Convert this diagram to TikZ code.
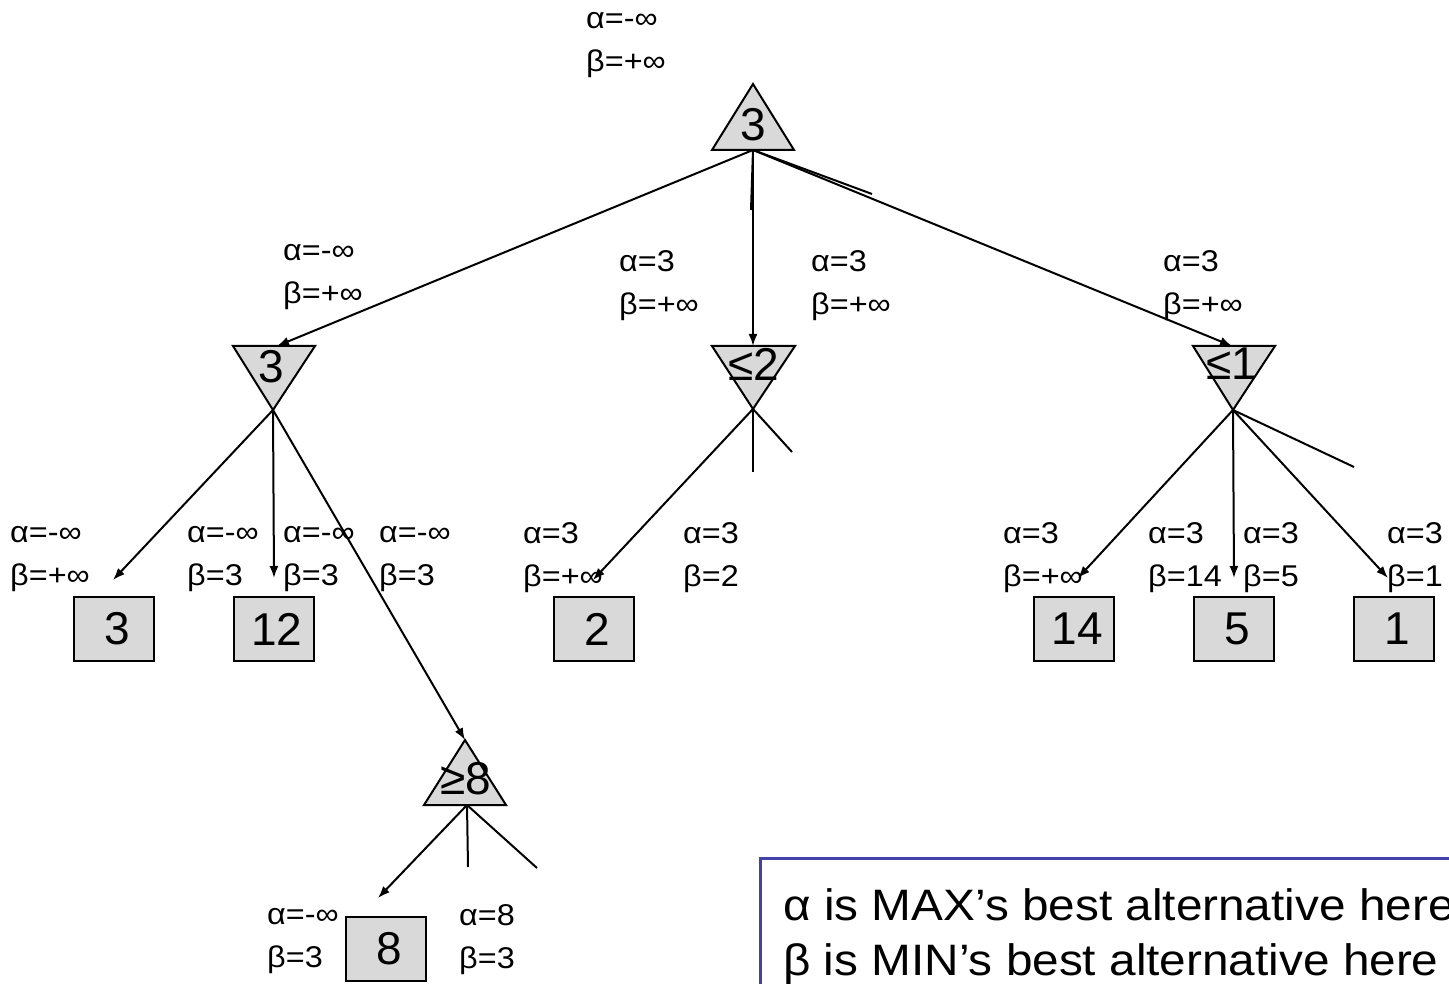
\documentclass[tikz,border=0pt]{standalone}
\usepackage{fontspec}
\setmainfont{Liberation Sans}
\usetikzlibrary{arrows.meta}
\definecolor{nodegray}{RGB}{217,217,217}
\definecolor{boxblue}{RGB}{66,66,170}
\newcommand\ablab[2]{\rule{0pt}{20pt}\scalebox{1.08}[1]{#1}\\\scalebox{1.08}[1]{#2}\rule[-6pt]{0pt}{6pt}}
\begin{document}
\begin{tikzpicture}[x=1pt,y=-1pt,
  edge/.style={line width=2pt},
  arr/.style={edge,-{Latex[length=12pt,width=9pt]}},
  tri/.style={draw,line width=2pt,fill=nodegray,line join=miter},
  num/.style={font=\fontsize{46}{46}\selectfont,inner sep=0pt},
  leaf/.style={draw,line width=1.6pt,fill=nodegray,minimum width=80pt,minimum height=64pt,inner sep=0pt,font=\fontsize{46}{46}\selectfont,execute at begin node=\hspace*{6pt}},
  lab/.style={font=\fontsize{30}{43}\selectfont,align=left,anchor=west,inner sep=0pt},
]
\useasboundingbox (0,0) rectangle (1449,984);

% ---- nodes (triangles) ----
\draw[tri] (753,84) -- (794,150) -- (712,150) -- cycle;
\node[num] (root) at (753,125) {3};
\coordinate (rootB) at (753,150);

\draw[tri] (233,346) -- (315,346) -- (273,410) -- cycle;
\node[num] (minA) at (271,367) {3};
\coordinate (minAT) at (277,346);
\coordinate (minAB) at (273,410);

\draw[tri] (712,346) -- (795,346) -- (753,409) -- cycle;
\node[num] (minB) at (754,364) {≤2};
\coordinate (minBT) at (753,346);
\coordinate (minBB) at (753,409);

\draw[tri] (1193,346) -- (1275,346) -- (1233,410) -- cycle;
\node[num] (minC) at (1232,364) {≤1};
\coordinate (minCT) at (1232,346);
\coordinate (minCB) at (1233,410);

\draw[tri] (465,740) -- (506,805) -- (424,805) -- cycle;
\node[num] (maxD) at (466,779) {≥8};
\coordinate (maxDT) at (465,740);
\coordinate (maxDB) at (467,805);

% ---- leaves ----
\node[leaf] (l3)  at (114,629) {3};
\node[leaf] (l12) at (274,629) {12};
\node[leaf] (l2)  at (594,629) {2};
\node[leaf] (l14) at (1074,629) {14};
\node[leaf] (l5)  at (1234,629) {5};
\node[leaf] (l1)  at (1394,629) {1};
\node[leaf] (l8)  at (386,949) {8};

% ---- connector ends ----
\coordinate (t3) at (113,580);
\coordinate (t12) at (274,578);
\coordinate (t2) at (593,580);
\coordinate (t14) at (1078,578);
\coordinate (t5) at (1234,578);
\coordinate (t1) at (1388,578);
\coordinate (t8) at (378,898);
\coordinate (cutR1) at (751,210);
\coordinate (cutR2) at (872,194);
\coordinate (cutB1) at (753,472);
\coordinate (cutB2) at (792,452);
\coordinate (cutC) at (1354,467);
\coordinate (cutD1) at (468,867);
\coordinate (cutD2) at (537,868);

% ---- connectors ----
\draw[arr] (rootB) -- (minAT);
\draw[arr] (rootB) -- (minBT);
\draw[arr] (rootB) -- (minCT);
\draw[edge] (rootB) -- (cutR1);
\draw[edge] (rootB) -- (cutR2);

\draw[arr] (minAB) -- (t3);
\draw[arr] (minAB) -- (t12);
\draw[arr] (minAB) -- (maxDT);

\draw[arr] (minBB) -- (t2);
\draw[edge] (minBB) -- (cutB1);
\draw[edge] (minBB) -- (cutB2);

\draw[arr] (minCB) -- (t14);
\draw[arr] (minCB) -- (t5);
\draw[arr] (minCB) -- (t1);
\draw[edge] (minCB) -- (cutC);

\draw[arr] (maxDB) -- (t8);
\draw[edge] (maxDB) -- (cutD1);
\draw[edge] (maxDB) -- (cutD2);

% ---- alpha/beta labels (west anchor at baseline1 + 14.5) ----
\node[lab] (lbRoot) at (586,43.5) {\ablab{α=-∞}{β=+∞}};
\node[lab] (lbA) at (283,275.5) {\ablab{α=-∞}{β=+∞}};
\node[lab] (lbB1) at (619,285.5) {\ablab{α=3}{β=+∞}};
\node[lab] (lbB2) at (811,285.5) {\ablab{α=3}{β=+∞}};
\node[lab] (lbC) at (1163,285.5) {\ablab{α=3}{β=+∞}};

\node[lab] (lv1) at (10,557.5) {\ablab{α=-∞}{β=+∞}};
\node[lab] (lv2) at (187,557.5) {\ablab{α=-∞}{β=3}};
\node[lab] (lv3) at (283,557.5) {\ablab{α=-∞}{β=3}};
\node[lab] (lv4) at (379,557.5) {\ablab{α=-∞}{β=3}};
\node[lab] (lv5) at (523,557.5) {\ablab{α=3}{β=+∞}};
\node[lab] (lv6) at (683,557.5) {\ablab{α=3}{β=2}};
\node[lab] (lv7) at (1003,557.5) {\ablab{α=3}{β=+∞}};
\node[lab] (lv8) at (1148,557.5) {\ablab{α=3}{β=14}};
\node[lab] (lv9) at (1243,557.5) {\ablab{α=3}{β=5}};
\node[lab] (lv10) at (1387,557.5) {\ablab{α=3}{β=1}};

\node[lab] (lw1) at (267,939.5) {\ablab{α=-∞}{β=3}};
\node[lab] (lw2) at (459,939.5) {\ablab{α=8}{β=3}};

% ---- legend box ----
\draw[boxblue,line width=3pt,fill=white] (760,858) rectangle (1470,1000);
\node[font=\fontsize{44}{55}\selectfont,align=left,anchor=west,inner sep=0pt] (legend) at (783,935)
  {\rule{0pt}{35pt}\scalebox{1.085}[1]{α is MAX’s best alternative here}\\\scalebox{1.085}[1]{β is MIN’s best alternative here}\rule[-10pt]{0pt}{10pt}};
\end{tikzpicture}
\end{document}
